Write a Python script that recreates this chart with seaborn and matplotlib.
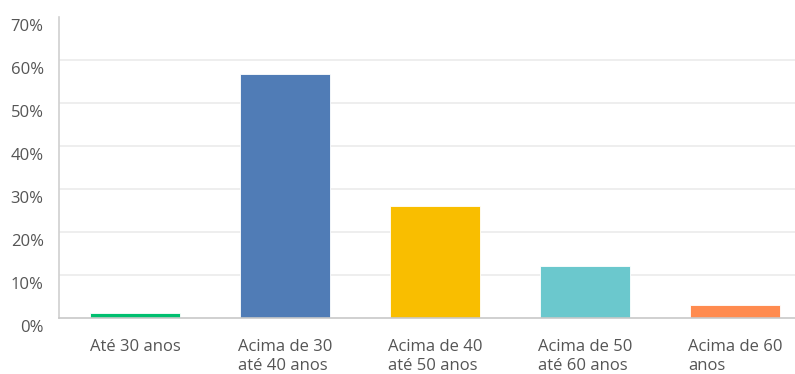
import matplotlib
matplotlib.use("Agg")
import matplotlib.pyplot as plt
import matplotlib.transforms as mtransforms
import seaborn as sns
import pandas as pd

categories = ["Até 30 anos", "Acima de 30\naté 40 anos", "Acima de 40\naté 50 anos",
              "Acima de 50\naté 60 anos", "Acima de 60\nanos"]
values = [1.2, 56.8, 26.0, 12.0, 3.0]
colors = ["#00BF6F", "#507CB6", "#F9BE00", "#6BC8CD", "#FF8B4F"]
yticks = [0, 10, 20, 30, 40, 50, 60, 70]
ytick_labels = ["0%", "10%", "20%", "30%", "40%", "50%", "60%", "70%"]

sns.set_theme(style="white")
plt.rcParams['font.family'] = ['Open Sans', 'DejaVu Sans']

df = pd.DataFrame({"cat": categories, "val": values})

fig = plt.figure(figsize=(7.95, 3.74), dpi=100)
ax = fig.add_axes([59/795, 1 - 318/374, (795-59)/795, (318-17)/374])

sns.barplot(data=df, x="cat", y="val", hue="cat", palette=colors, legend=False,
            width=0.6, ax=ax, edgecolor="white", linewidth=0.6, saturation=1)

ax.set_xlim(-0.507, 4.4)
ax.set_ylim(0, 70)
ax.set_yticks(yticks)
ax.set_yticklabels(ytick_labels)
ax.set_xlabel("")
ax.set_ylabel("")
for y in yticks[1:-1]:
    ax.axhline(y, color="#ebebeb", linewidth=1.2, zorder=0)
ax.set_axisbelow(True)

for s in ["top", "right"]:
    ax.spines[s].set_visible(False)
ax.spines["left"].set_color("#d0d0d0")
ax.spines["bottom"].set_color("#c8c8c8")
ax.spines["left"].set_linewidth(1.2)
ax.spines["bottom"].set_linewidth(1.2)

ax.tick_params(axis="both", length=0, colors="#555555", labelsize=12)
ax.tick_params(axis="y", pad=11)
ax.tick_params(axis="x", pad=15)
for lbl in ax.get_xticklabels():
    lbl.set_multialignment("left")
    lbl.set_linespacing(1.3)
    lbl.set_color("#555555")
offset = mtransforms.ScaledTranslation(0, -8/100, fig.dpi_scale_trans)
for lbl in ax.get_yticklabels():
    lbl.set_transform(lbl.get_transform() + offset)
    lbl.set_color("#555555")

fig.savefig("out.png", dpi=100)
